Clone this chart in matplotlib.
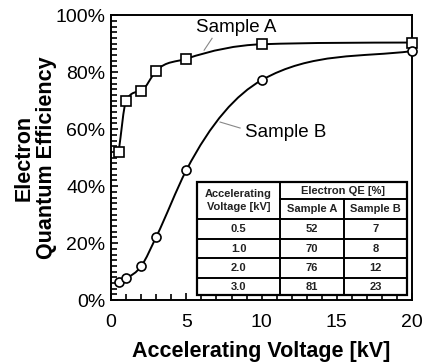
import matplotlib
matplotlib.use('Agg')
import matplotlib.pyplot as plt
import numpy as np
from matplotlib.path import Path
from matplotlib.patches import PathPatch
from matplotlib.ticker import MultipleLocator, PercentFormatter

plt.rcParams['font.family'] = ['Liberation Sans', 'DejaVu Sans']

# data
voltage = [0.5, 1.0, 2.0, 3.0, 5.0, 10.0, 20.0]
qe_a = [52, 70, 73.5, 80.5, 84.7, 89.8, 90.4]
qe_b = [6.4, 7.6, 11.9, 22.2, 45.6, 77.2, 87.4]

# table text
tbl_voltage = ['0.5', '1.0', '2.0', '3.0']
tbl_a = ['52', '70', '76', '81']
tbl_b = ['7', '8', '12', '23']


def smooth_path(x, y):
    # three-point slopes, limited (Fritsch-Carlson), drawn as bezier segments
    x = np.asarray(x, float)
    y = np.asarray(y, float)
    h = np.diff(x)
    d = np.diff(y) / h
    m = np.zeros_like(y)
    m[0] = d[0]
    m[-1] = d[-1]
    for i in range(1, len(x) - 1):
        m[i] = (d[i - 1] * h[i] + d[i] * h[i - 1]) / (h[i - 1] + h[i])
    for i in range(len(d)):
        a = m[i] / d[i]
        b = m[i + 1] / d[i]
        s = a * a + b * b
        if s > 9:
            t = 3 / np.sqrt(s)
            m[i] = t * a * d[i]
            m[i + 1] = t * b * d[i]
    verts = [(x[0], y[0])]
    codes = [Path.MOVETO]
    for i in range(len(x) - 1):
        verts += [(x[i] + h[i] / 3, y[i] + m[i] * h[i] / 3),
                  (x[i + 1] - h[i] / 3, y[i + 1] - m[i + 1] * h[i] / 3),
                  (x[i + 1], y[i + 1])]
        codes += [Path.CURVE4] * 3
    return Path(verts, codes)


fig = plt.figure(figsize=(4.24, 3.62), dpi=100)
ax = fig.add_axes([0.262, 0.171, 0.71, 0.787])

for yy in (qe_a, qe_b):
    ax.add_patch(PathPatch(smooth_path(voltage, yy), fill=False, lw=1.4,
                           edgecolor='black', zorder=3))
ax.plot(voltage, qe_a, ls='none', marker='s', ms=6.5, mfc='white',
        mec='black', mew=1.2, zorder=4, clip_on=False)
ax.plot(voltage, qe_b, ls='none', marker='o', ms=6.5, mfc='white',
        mec='black', mew=1.2, zorder=4, clip_on=False)

ax.set_xlim(0, 20)
ax.set_ylim(0, 100)
ax.xaxis.set_major_locator(MultipleLocator(5))
ax.xaxis.set_minor_locator(MultipleLocator(1))
ax.yaxis.set_major_locator(MultipleLocator(20))
ax.yaxis.set_minor_locator(MultipleLocator(2))
ax.yaxis.set_major_formatter(PercentFormatter(decimals=0))
ax.tick_params(which='both', direction='in', top=False, right=False,
               width=1.2, labelsize=14)
ax.tick_params(which='major', length=5)
ax.tick_params(which='minor', length=4)
ax.tick_params(axis='x', pad=10)
ax.tick_params(axis='y', pad=4)
for sp in ax.spines.values():
    sp.set_linewidth(1.4)

ax.set_xlabel('Accelerating Voltage [kV]', fontsize=15.5, fontweight='bold',
              labelpad=7)
ax.set_ylabel('Electron\nQuantum Efficiency', fontsize=15.5,
              fontweight='bold', labelpad=-1, linespacing=1.1)

# curve labels with gray leaders
ax.text(5.65, 95.8, 'Sample A', fontsize=13.5, va='center', ha='left')
ax.plot([6.18, 6.71], [87.7, 91.9], color='#888888', lw=0.8)
ax.text(8.9, 59.0, 'Sample B', fontsize=13.5, va='center', ha='left')
ax.plot([7.24, 8.57], [62.5, 60.4], color='#888888', lw=0.8)

# inset table drawn in axes coordinates
tr = ax.transAxes
cols = [0.286, 0.561, 0.774, 0.983]
rows = [0.414, 0.354, 0.284, 0.214, 0.147, 0.077, 0.0175]
ax.add_patch(plt.Rectangle((cols[0], rows[-1]), cols[-1] - cols[0],
                           rows[0] - rows[-1], transform=tr, facecolor='white',
                           edgecolor='black', lw=1.6, zorder=5))
kw = dict(transform=tr, color='black', lw=1.4, zorder=6)
for r in rows[2:-1]:
    ax.plot([cols[0], cols[-1]], [r, r], **kw)
ax.plot([cols[1], cols[-1]], [rows[1], rows[1]], **kw)
ax.plot([cols[1], cols[1]], [rows[0], rows[-1]], **kw)
ax.plot([cols[2], cols[2]], [rows[1], rows[-1]], **kw)

tk = dict(transform=tr, fontsize=8, fontweight='bold', ha='center',
          va='center', color='#222222', zorder=7)
ax.text((cols[0] + cols[1]) / 2, (rows[0] + rows[2]) / 2,
        'Accelerating\nVoltage [kV]', linespacing=1.3, **tk)
ax.text((cols[1] + cols[3]) / 2, (rows[0] + rows[1]) / 2,
        'Electron QE [%]', **tk)
ax.text((cols[1] + cols[2]) / 2, (rows[1] + rows[2]) / 2, 'Sample A', **tk)
ax.text((cols[2] + cols[3]) / 2, (rows[1] + rows[2]) / 2, 'Sample B', **tk)
for i in range(len(tbl_voltage)):
    yc = (rows[i + 2] + rows[i + 3]) / 2
    ax.text((cols[0] + cols[1]) / 2, yc, tbl_voltage[i], **tk)
    ax.text((cols[1] + cols[2]) / 2, yc, tbl_a[i], **tk)
    ax.text((cols[2] + cols[3]) / 2, yc, tbl_b[i], **tk)

fig.savefig('out.png', dpi=100)
